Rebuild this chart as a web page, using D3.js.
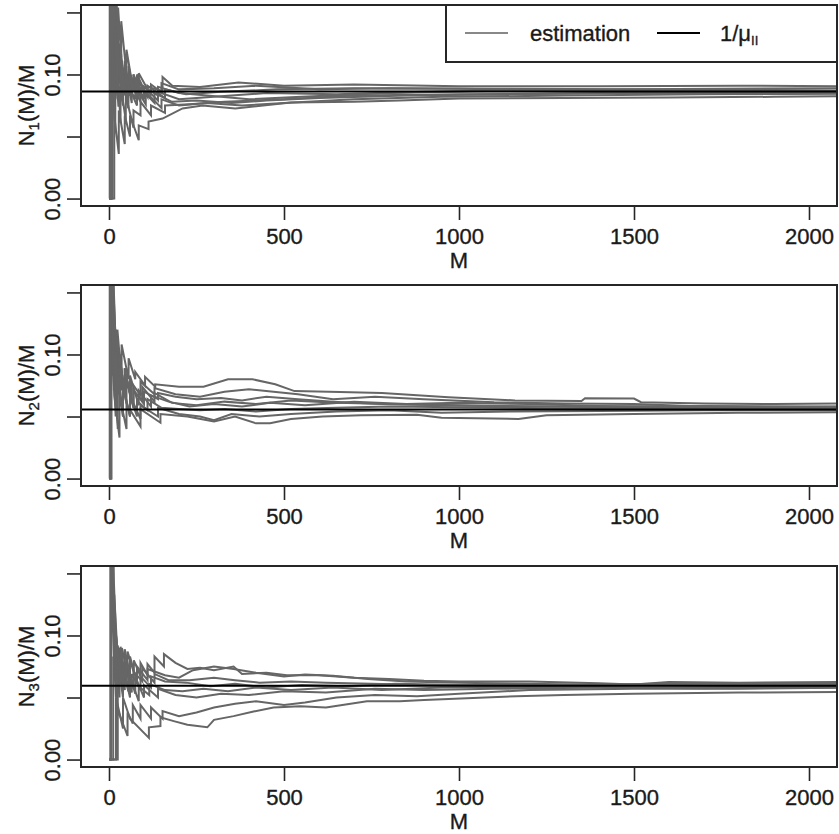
<!DOCTYPE html>
<html>
<head>
<meta charset="utf-8">
<script src="https://cdn.jsdelivr.net/npm/d3@7"></script>
<style>
  body { margin: 0; background: #fff; }
  text { font-family: "Liberation Sans", Arial, sans-serif; fill: #1a1a1a; stroke: #1a1a1a; stroke-width: 0.35px; }
</style>
</head>
<body>
<script>
// axis ticks
var xTicks = [0, 500, 1000, 1500, 2000];
var yTicks = [0, 0.05, 0.10, 0.15];
var yLabeled = [0, 0.10];
var panelSubs = ["1", "2", "3"];
// horizontal reference 1/mu per panel
var targets = [0.0863, 0.0557, 0.0595];

// estimation runs, [M, N(M)/M]
var runs1 = [
  [[1,0],[3,0],[3,.333],[9,.111],[9,.222],[22,.091],[22,.136],[33,.091],[33,.121],[45,.089],[45,.111],[56,.089],[56,.107],[70,.086],[70,.1],[85,.082],[85,.101],[120,.083],[120,.092],[153,.085],[153,.098],[181,.091],[260,.09],[370,.0935],[500,.091],[700,.092],[1000,.0905],[1400,.0905],[1800,.091],[2100,.0905]],
  [[1,1],[2,.5],[2,1],[6,.333],[6,.5],[14,.214],[30,.1],[30,.125],[45,.083],[45,.105],[60,.083],[60,.1],[85,.082],[85,.094],[110,.082],[110,.09],[150,.087],[150,.093],[200,.088],[300,.089],[420,.091],[600,.088],[800,.089],[1100,.0885],[1500,.088],[1900,.0875],[2100,.087]],
  [[1,0],[6,0],[6,.167],[12,.083],[12,.167],[18,.111],[18,.167],[26,.115],[26,.154],[35,.114],[35,.143],[50,.1],[50,.12],[70,.086],[70,.1],[100,.08],[100,.09],[140,.079],[140,.086],[200,.08],[300,.082],[450,.085],[650,.084],[900,.086],[1200,.087],[1600,.0865],[2100,.0865]],
  [[1,0],[10,0],[10,.1],[18,.056],[18,.111],[27,.074],[27,.111],[38,.079],[38,.105],[55,.073],[55,.091],[75,.08],[75,.093],[100,.08],[100,.09],[140,.083],[140,.09],[200,.085],[280,.083],[400,.08],[550,.082],[800,.085],[1100,.087],[1500,.088],[2100,.089]],
  [[1,0],[15,0],[15,.067],[28,.036],[28,.071],[45,.044],[45,.067],[60,.05],[60,.067],[85,.047],[85,.059],[113,.056],[113,.062],[153,.0645],[210,.0726],[267,.075],[361,.0726],[520,.0774],[700,.078],[830,.079],[1000,.0806],[1300,.081],[1600,.0815],[1900,.082],[2100,.0825]],
  [[1,0],[5,0],[5,.2],[12,.083],[12,.167],[33,.061],[33,.091],[48,.063],[48,.083],[70,.057],[70,.071],[90,.067],[90,.078],[120,.067],[120,.075],[160,.069],[160,.075],[230,.076],[330,.078],[500,.08],[700,.083],[1000,.084],[1400,.085],[1800,.0855],[2100,.0855]],
  [[1,0],[2,0],[2,.5],[7,.143],[7,.286],[12,.167],[25,.08],[25,.12],[40,.075],[40,.1],[60,.083],[60,.1],[80,.087],[80,.1],[110,.082],[110,.091],[160,.081],[160,.088],[220,.084],[320,.086],[480,.088],[700,.089],[1000,.0885],[1400,.087],[1800,.0865],[2100,.0865]],
  [[1,0],[8,0],[8,.125],[16,.063],[16,.125],[25,.08],[25,.12],[36,.083],[36,.111],[50,.08],[50,.1],[65,.077],[65,.092],[90,.078],[90,.089],[130,.077],[130,.085],[180,.078],[250,.079],[350,.077],[450,.079],[600,.081],[850,.083],[1150,.084],[1500,.085],[1900,.0845],[2100,.085]],
  [[1,0],[4,0],[4,.25],[11,.091],[11,.182],[24,.083],[24,.125],[40,.075],[40,.1],[55,.073],[55,.091],[80,.075],[80,.088],[105,.076],[105,.086],[150,.073],[150,.08],[200,.075],[280,.077],[380,.075],[500,.077],[700,.08],[950,.082],[1300,.083],[1700,.084],[2100,.0845]]
];

var runs2 = [
  [[1,1],[9,.111],[9,.2],[16,.115],[16,.123],[24,.085],[24,.12],[36,.08],[36,.108],[56,.08],[56,.097],[75,.08],[75,.086],[103,.075],[103,.082],[132,.074],[132,.076],[200,.074],[270,.074],[340,.08],[410,.08],[475,.076],[530,.0705],[660,.0697],[780,.069],[970,.0656],[1160,.063],[1350,.0625],[1360,.0647],[1500,.0645],[1520,.0615],[1700,.0605],[1900,.06],[2100,.0605]],
  [[1,0],[4,0],[4,.25],[12,.083],[12,.167],[20,.1],[20,.12],[30,.08],[30,.1],[45,.067],[45,.089],[65,.062],[65,.077],[90,.067],[90,.078],[130,.068],[130,.073],[190,.068],[260,.066],[330,.07],[400,.072],[470,.07],[540,.068],[640,.064],[760,.066],[900,.064],[1100,.0615],[1300,.0605],[1500,.06],[1700,.058],[1900,.0575],[2100,.058]],
  [[1,0],[6,0],[6,.167],[14,.071],[14,.143],[22,.091],[22,.114],[35,.071],[35,.086],[50,.06],[50,.08],[70,.057],[70,.071],[95,.063],[95,.074],[130,.062],[130,.069],[180,.061],[250,.059],[330,.062],[420,.06],[520,.063],[650,.061],[800,.06],[1000,.059],[1250,.058],[1500,.057],[1800,.0565],[2100,.057]],
  [[1,0],[7,0],[7,.143],[15,.067],[30,.033],[30,.067],[50,.04],[50,.06],[90,.042],[90,.056],[147,.045],[147,.052],[224,.05],[300,.046],[360,.05],[420,.0445],[460,.0445],[520,.048],[610,.05],[720,.051],[880,.0515],[950,.049],[1170,.048],[1250,.051],[1500,.052],[1800,.053],[2100,.0535]],
  [[1,1],[10,.1],[10,.11],[19,.05],[19,.105],[40,.05],[40,.075],[60,.05],[60,.067],[90,.048],[90,.059],[140,.05],[140,.057],[200,.052],[260,.05],[300,.047],[350,.052],[430,.05],[520,.052],[650,.054],[800,.055],[950,.053],[1150,.054],[1400,.0545],[1700,.055],[2100,.055]],
  [[1,0],[2,0],[2,.5],[10,.1],[10,.12],[20,.06],[20,.1],[30,.067],[30,.1],[45,.067],[45,.089],[60,.067],[60,.083],[85,.059],[85,.071],[120,.058],[120,.067],[170,.062],[230,.058],[300,.06],[380,.058],[460,.061],[560,.059],[700,.062],[850,.06],[1000,.061],[1200,.06],[1400,.0585],[1700,.0575],[2100,.0565]],
  [[1,0],[4,0],[4,.25],[12,.083],[12,.123],[25,.04],[25,.08],[40,.05],[40,.075],[60,.05],[60,.067],[80,.05],[80,.0625],[110,.055],[110,.064],[150,.057],[200,.056],[260,.055],[330,.056],[420,.054],[520,.056],[650,.057],[800,.058],[1000,.0575],[1300,.0565],[1600,.056],[2100,.056]],
  [[1,1],[6,.167],[6,.2],[11,.11],[11,.12],[20,.07],[20,.1],[32,.063],[32,.094],[48,.063],[48,.083],[70,.057],[70,.071],[100,.06],[100,.07],[140,.064],[140,.069],[190,.066],[250,.064],[320,.065],[380,.063],[450,.066],[540,.064],[640,.062],[780,.06],[950,.059],[1150,.058],[1400,.058],[1700,.0585],[2100,.058]]
];

var runs3 = [
  [[1,0],[20,0],[20,.05],[40,.025],[40,.05],[60,.033],[114,.0175],[114,.026],[147,.027],[147,.034],[185,.031],[224,.028],[281,.026],[300,.032],[356,.035],[413,.0387],[470,.042],[546,.043],[620,.042],[737,.047],[831,.047],[900,.048],[1164,.051],[1300,.052],[1500,.053],[1800,.054],[2100,.0545]],
  [[1,0],[25,0],[25,.04],[53,.019],[53,.038],[68,.029],[68,.044],[90,.033],[90,.044],[120,.033],[120,.042],[153,.033],[153,.039],[200,.035],[250,.038],[300,.042],[360,.045],[420,.047],[500,.044],[560,.046],[650,.05],[760,.052],[880,.051],[1000,.053],[1200,.056],[1500,.057],[1800,.057],[2100,.058]],
  [[1,1],[8,.125],[8,.25],[14,.143],[19,.105],[25,.08],[25,.092],[37,.062],[37,.09],[53,.068],[53,.087],[71,.07],[71,.08],[90,.067],[90,.078],[110,.068],[110,.077],[130,.07],[130,.083],[157,.075],[157,.085],[190,.078],[224,.073],[260,.074],[300,.072],[356,.075],[380,.069],[450,.07],[508,.068],[600,.068],[700,.066],[800,.065],[900,.0635],[1000,.063],[1200,.063],[1400,.0615],[1500,.0605],[1600,.0625],[1800,.062],[2100,.0625]],
  [[1,0],[5,0],[5,.2],[20,.05],[20,.1],[30,.067],[30,.09],[45,.067],[45,.089],[60,.067],[60,.083],[80,.062],[80,.075],[110,.064],[110,.073],[140,.07],[160,.068],[200,.066],[240,.072],[300,.075],[356,.073],[420,.07],[500,.067],[560,.0685],[640,.0675],[740,.065],[850,.063],[1000,.062],[1200,.061],[1400,.06],[1700,.061],[2100,.0605]],
  [[1,1],[9,.111],[9,.15],[16,.085],[16,.094],[30,.05],[30,.083],[45,.056],[45,.078],[65,.054],[65,.069],[90,.056],[90,.067],[120,.058],[120,.067],[160,.063],[220,.062],[290,.059],[360,.061],[450,.058],[550,.06],[680,.059],[820,.061],[1000,.06],[1300,.0595],[1600,.06],[2100,.0595]],
  [[1,0],[12,0],[12,.083],[25,.04],[25,.08],[40,.05],[40,.075],[55,.055],[55,.073],[75,.053],[75,.067],[100,.05],[100,.06],[140,.05],[140,.057],[190,.052],[250,.05],[320,.053],[400,.052],[500,.055],[620,.054],[760,.057],[900,.056],[1100,.057],[1400,.058],[1700,.0575],[2100,.058]],
  [[1,0],[6,0],[6,.167],[15,.067],[15,.133],[25,.08],[25,.09],[40,.056],[40,.075],[60,.05],[60,.067],[85,.047],[85,.059],[115,.052],[115,.061],[160,.056],[210,.055],[270,.057],[340,.055],[420,.058],[520,.056],[640,.058],[780,.056],[950,.058],[1200,.0585],[1500,.058],[1800,.0585],[2100,.059]],
  [[1,0],[4,0],[4,.25],[20,.05],[20,.1],[33,.061],[33,.091],[50,.06],[50,.08],[70,.057],[70,.071],[95,.063],[95,.074],[130,.062],[130,.069],[170,.064],[230,.064],[300,.066],[360,.064],[430,.062],[520,.063],[620,.062],[750,.061],[900,.06],[1100,.06],[1400,.0605],[1700,.0615],[2100,.0615]]
];

var panelRuns = [runs1, runs2, runs3];

var W = 839, H = 834;
var left = 81, right = 837, ph = 201;
var tops = [5, 285, 566];
var fontSize = 22;

var svg = d3.select("body").append("svg")
  .attr("width", W)
  .attr("height", H);

var x = d3.scaleLinear().domain([-80, 2080]).range([left, right]);

tops.forEach(function(top, i) {
  var y = d3.scaleLinear().domain([-0.006, 0.156]).range([top + ph, top]);

  svg.append("clipPath").attr("id", "clip" + i)
    .append("rect")
    .attr("x", left).attr("y", top)
    .attr("width", right - left).attr("height", ph);

  var plot = svg.append("g").attr("clip-path", "url(#clip" + i + ")");

  var line = d3.line()
    .x(function(d) { return x(d[0]); })
    .y(function(d) { return y(d[1]); });

  plot.selectAll("path.run")
    .data(panelRuns[i])
    .enter()
    .append("path")
    .attr("class", "run")
    .attr("d", line)
    .attr("fill", "none")
    .attr("stroke", "#666")
    .attr("stroke-width", 2);

  // 1/mu line
  plot.append("line")
    .attr("x1", left).attr("x2", right)
    .attr("y1", y(targets[i])).attr("y2", y(targets[i]))
    .attr("stroke", "#000")
    .attr("stroke-width", 2);

  // box
  svg.append("rect")
    .attr("x", left).attr("y", top)
    .attr("width", right - left).attr("height", ph)
    .attr("fill", "none")
    .attr("stroke", "#262626")
    .attr("stroke-width", 2);

  // x axis
  var xa = svg.append("g")
    .attr("transform", "translate(0," + (top + ph) + ")")
    .call(d3.axisBottom(x).tickValues(xTicks).tickSize(14).tickPadding(8).tickFormat(d3.format("d")));
  xa.select(".domain").remove();
  xa.selectAll("line").attr("stroke", "#262626").attr("stroke-width", 1.6);
  xa.selectAll("text").attr("font-size", fontSize).attr("fill", "#1a1a1a");

  // y axis
  var ya = svg.append("g")
    .attr("transform", "translate(" + left + ",0)")
    .call(d3.axisLeft(y).tickValues(yTicks).tickSize(14)
      .tickFormat(function(d) { return yLabeled.indexOf(d) >= 0 ? d3.format(".2f")(d) : ""; }));
  ya.select(".domain").remove();
  ya.selectAll("line").attr("stroke", "#262626").attr("stroke-width", 1.6);
  ya.selectAll("text")
    .attr("x", null)
    .attr("transform", "translate(-29,0) rotate(-90)")
    .attr("dy", "0.35em")
    .attr("text-anchor", "middle")
    .attr("font-size", fontSize)
    .attr("fill", "#1a1a1a");

  // axis titles
  svg.append("text")
    .attr("x", (left + right) / 2)
    .attr("y", top + ph + 62)
    .attr("text-anchor", "middle")
    .attr("font-size", fontSize)
    .text("M");

  var yl = svg.append("text")
    .attr("transform", "translate(26," + (top + ph / 2) + ") rotate(-90)")
    .attr("dy", "0.35em")
    .attr("text-anchor", "middle")
    .attr("font-size", fontSize);
  yl.append("tspan").text("N");
  yl.append("tspan").attr("font-size", 15).attr("dy", 5).text(panelSubs[i]);
  yl.append("tspan").attr("dy", -5).text("(M)/M");
});

// legend in first panel
var lg = svg.append("g");
lg.append("rect")
  .attr("x", 446).attr("y", tops[0])
  .attr("width", right - 446).attr("height", 57)
  .attr("fill", "#fff")
  .attr("stroke", "#262626")
  .attr("stroke-width", 2);
lg.append("line").attr("x1", 465).attr("x2", 508).attr("y1", 33).attr("y2", 33)
  .attr("stroke", "#888").attr("stroke-width", 2);
lg.append("text").attr("x", 530).attr("y", 41).attr("font-size", fontSize).text("estimation");
lg.append("line").attr("x1", 657).attr("x2", 700).attr("y1", 33).attr("y2", 33)
  .attr("stroke", "#000").attr("stroke-width", 2);
var mu = lg.append("text").attr("x", 720).attr("y", 41).attr("font-size", fontSize);
mu.append("tspan").text("1/\u03bc");
mu.append("tspan").attr("font-size", 13).attr("dy", 4).text("II");
</script>
</body>
</html>
